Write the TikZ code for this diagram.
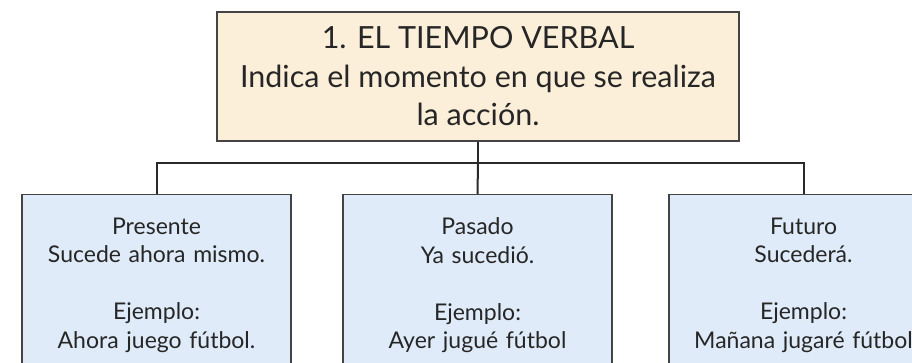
\documentclass[tikz,border=0pt]{standalone}
\usepackage{fontspec}
\setmainfont{Lato}
\definecolor{cream}{HTML}{FCEFD9}
\definecolor{lblue}{HTML}{DFEBF8}
\definecolor{edge}{HTML}{444444}
\definecolor{conn}{HTML}{2A2A2A}
\begin{document}
\begin{tikzpicture}[x=1pt,y=-1pt,
  topbox/.style={draw=edge, line width=1.5pt, fill=cream, minimum width=522pt, minimum height=129pt,
    align=center, font=\fontsize{30.5}{38.5}\selectfont, text=black!85},
  childbox/.style={draw=edge, line width=1.5pt, fill=lblue, text width=237pt, inner xsep=16pt,
    inner ysep=23pt, anchor=north, align=center, font=\fontsize{23}{28.5}\selectfont, text=black!85},
  connector/.style={draw=conn, line width=2pt}]
\clip (0,0) rectangle (912,363);
\fill[white] (0,0) rectangle (912,363);
\node[topbox] (top) at (478,76.5) {1. EL TIEMPO VERBAL\\Indica el momento en que se realiza\\la acción.};
\node[childbox] (left) at (156.5,194) {Presente\\Sucede ahora mismo.\\[28.5pt]Ejemplo:\\Ahora juego fútbol.\\[10pt]};
\node[childbox] (mid) at (477.5,194) {Pasado\\Ya sucedió.\\[28.5pt]Ejemplo:\\Ayer jugué fútbol\\[10pt]};
\node[childbox] (right) at (803.5,194) {Futuro\\Sucederá.\\[28.5pt]Ejemplo:\\Mañana jugaré fútbol\\[10pt]};
\coordinate (bus) at (478,163);
\draw[connector] (top.south) -- (bus);
\draw[connector] (left.north) |- (bus) -| (right.north);
\draw[connector] (bus) -- (mid.north);
\end{tikzpicture}
\end{document}
